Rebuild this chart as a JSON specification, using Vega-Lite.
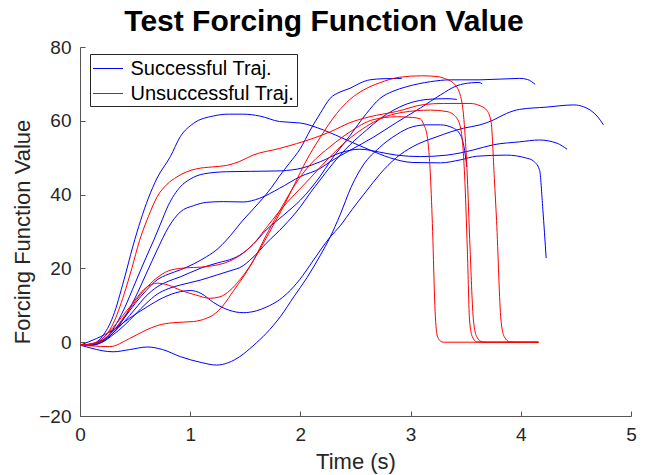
{
  "$schema": "https://vega.github.io/schema/vega-lite/v6.json",
  "width": 551,
  "height": 369,
  "autosize": {"type": "none"},
  "padding": {"left": 80, "top": 47, "right": 14, "bottom": 59},
  "title": {
    "text": "Test Forcing Function Value",
    "font": "Liberation Sans",
    "fontSize": 30,
    "fontWeight": "bold",
    "color": "#000000",
    "anchor": "middle",
    "frame": "bounds",
    "offset": 1
  },
  "datasets": {
    "runs": [
      {"id": "B1", "kind": "Successful Traj."},
      {"id": "B2", "kind": "Successful Traj."},
      {"id": "B3", "kind": "Successful Traj."},
      {"id": "M1", "kind": "Successful Traj."},
      {"id": "M2", "kind": "Successful Traj."},
      {"id": "M3", "kind": "Successful Traj."},
      {"id": "BL", "kind": "Successful Traj."},
      {"id": "BD", "kind": "Successful Traj."},
      {"id": "R1", "kind": "Unsuccessful Traj."},
      {"id": "RC", "kind": "Unsuccessful Traj."},
      {"id": "RB", "kind": "Unsuccessful Traj."},
      {"id": "RA", "kind": "Unsuccessful Traj."}
    ],
    "points": [
      {"id": "B1", "t": 0, "v": -0.8}, {"id": "B1", "t": 0.1, "v": -0.6}, {"id": "B1", "t": 0.2, "v": 1.5}, {"id": "B1", "t": 0.3, "v": 7},
      {"id": "B1", "t": 0.4, "v": 17}, {"id": "B1", "t": 0.48, "v": 26}, {"id": "B1", "t": 0.55, "v": 33}, {"id": "B1", "t": 0.62, "v": 39},
      {"id": "B1", "t": 0.7, "v": 44.5}, {"id": "B1", "t": 0.82, "v": 50.3}, {"id": "B1", "t": 0.91, "v": 55.7}, {"id": "B1", "t": 1.03, "v": 59.3},
      {"id": "B1", "t": 1.21, "v": 61.3}, {"id": "B1", "t": 1.35, "v": 61.8}, {"id": "B1", "t": 1.48, "v": 61.8}, {"id": "B1", "t": 1.63, "v": 61.3},
      {"id": "B1", "t": 1.81, "v": 59.8}, {"id": "B1", "t": 2.0, "v": 59.4}, {"id": "B1", "t": 2.21, "v": 57.5}, {"id": "B1", "t": 2.42, "v": 54.8},
      {"id": "B1", "t": 2.63, "v": 52.1}, {"id": "B1", "t": 2.81, "v": 50.0}, {"id": "B1", "t": 3.02, "v": 48.7}, {"id": "B1", "t": 3.27, "v": 48.6},
      {"id": "B1", "t": 3.45, "v": 49.4}, {"id": "B1", "t": 3.6, "v": 50.4}, {"id": "B1", "t": 3.87, "v": 50.7}, {"id": "B1", "t": 4.05, "v": 49.9},
      {"id": "B1", "t": 4.11, "v": 49.2}, {"id": "B1", "t": 4.17, "v": 46.7}, {"id": "B1", "t": 4.2, "v": 36}, {"id": "B1", "t": 4.23, "v": 22.8},

      {"id": "B2", "t": 0, "v": -0.8}, {"id": "B2", "t": 0.1, "v": -0.8}, {"id": "B2", "t": 0.2, "v": 0.2}, {"id": "B2", "t": 0.3, "v": 3.5},
      {"id": "B2", "t": 0.4, "v": 9}, {"id": "B2", "t": 0.5, "v": 16}, {"id": "B2", "t": 0.6, "v": 23}, {"id": "B2", "t": 0.67, "v": 27.7},
      {"id": "B2", "t": 0.73, "v": 32}, {"id": "B2", "t": 0.8, "v": 37}, {"id": "B2", "t": 0.91, "v": 42.1}, {"id": "B2", "t": 1.0, "v": 44.2},
      {"id": "B2", "t": 1.12, "v": 45.6}, {"id": "B2", "t": 1.33, "v": 46.2}, {"id": "B2", "t": 1.55, "v": 46.3}, {"id": "B2", "t": 1.78, "v": 46.4},
      {"id": "B2", "t": 1.97, "v": 46.9}, {"id": "B2", "t": 2.18, "v": 48.9}, {"id": "B2", "t": 2.36, "v": 51.3}, {"id": "B2", "t": 2.54, "v": 52.3},
      {"id": "B2", "t": 2.72, "v": 51.5}, {"id": "B2", "t": 2.87, "v": 50.7}, {"id": "B2", "t": 3.09, "v": 50.3}, {"id": "B2", "t": 3.33, "v": 50.7},
      {"id": "B2", "t": 3.57, "v": 52.1}, {"id": "B2", "t": 3.75, "v": 53.5}, {"id": "B2", "t": 3.99, "v": 54.3}, {"id": "B2", "t": 4.17, "v": 54.8},
      {"id": "B2", "t": 4.33, "v": 53.9}, {"id": "B2", "t": 4.42, "v": 52.3},

      {"id": "B3", "t": 0, "v": -0.8}, {"id": "B3", "t": 0.1, "v": -0.8}, {"id": "B3", "t": 0.2, "v": 0}, {"id": "B3", "t": 0.3, "v": 2.5},
      {"id": "B3", "t": 0.4, "v": 6.5}, {"id": "B3", "t": 0.5, "v": 12}, {"id": "B3", "t": 0.6, "v": 18.5}, {"id": "B3", "t": 0.7, "v": 25},
      {"id": "B3", "t": 0.8, "v": 31}, {"id": "B3", "t": 0.91, "v": 35.3}, {"id": "B3", "t": 1.03, "v": 37}, {"id": "B3", "t": 1.15, "v": 37.9},
      {"id": "B3", "t": 1.3, "v": 38.1}, {"id": "B3", "t": 1.48, "v": 38.0}, {"id": "B3", "t": 1.63, "v": 39.0}, {"id": "B3", "t": 1.81, "v": 41.7},
      {"id": "B3", "t": 2.0, "v": 44.9}, {"id": "B3", "t": 2.18, "v": 47.1}, {"id": "B3", "t": 2.27, "v": 48.9}, {"id": "B3", "t": 2.45, "v": 52},
      {"id": "B3", "t": 2.66, "v": 55.5}, {"id": "B3", "t": 2.87, "v": 59.5}, {"id": "B3", "t": 3.09, "v": 63.5}, {"id": "B3", "t": 3.27, "v": 67},
      {"id": "B3", "t": 3.42, "v": 69.5}, {"id": "B3", "t": 3.55, "v": 70.3}, {"id": "B3", "t": 3.62, "v": 70.4}, {"id": "B3", "t": 3.65, "v": 70.0},

      {"id": "M1", "t": 0, "v": -0.8}, {"id": "M1", "t": 0.1, "v": -0.5}, {"id": "M1", "t": 0.2, "v": 0.5}, {"id": "M1", "t": 0.3, "v": 3},
      {"id": "M1", "t": 0.4, "v": 6.5}, {"id": "M1", "t": 0.5, "v": 10.5}, {"id": "M1", "t": 0.6, "v": 14}, {"id": "M1", "t": 0.7, "v": 16.9},
      {"id": "M1", "t": 0.8, "v": 18.4}, {"id": "M1", "t": 0.91, "v": 19.6}, {"id": "M1", "t": 1.03, "v": 21.2}, {"id": "M1", "t": 1.15, "v": 23.2},
      {"id": "M1", "t": 1.25, "v": 25.3}, {"id": "M1", "t": 1.33, "v": 27.7}, {"id": "M1", "t": 1.48, "v": 33.1}, {"id": "M1", "t": 1.63, "v": 38},
      {"id": "M1", "t": 1.74, "v": 42}, {"id": "M1", "t": 1.81, "v": 45}, {"id": "M1", "t": 1.9, "v": 48.5}, {"id": "M1", "t": 2.0, "v": 52.5},
      {"id": "M1", "t": 2.09, "v": 57.5}, {"id": "M1", "t": 2.18, "v": 62.0}, {"id": "M1", "t": 2.27, "v": 66.1}, {"id": "M1", "t": 2.36, "v": 67.8},
      {"id": "M1", "t": 2.45, "v": 68.8}, {"id": "M1", "t": 2.54, "v": 70.2}, {"id": "M1", "t": 2.63, "v": 71.1}, {"id": "M1", "t": 2.75, "v": 71.4},
      {"id": "M1", "t": 2.92, "v": 71.5},

      {"id": "M2", "t": 0, "v": -0.8}, {"id": "M2", "t": 0.1, "v": -0.6}, {"id": "M2", "t": 0.2, "v": 0.3}, {"id": "M2", "t": 0.3, "v": 2.5},
      {"id": "M2", "t": 0.4, "v": 5.5}, {"id": "M2", "t": 0.5, "v": 9}, {"id": "M2", "t": 0.6, "v": 12.5}, {"id": "M2", "t": 0.7, "v": 15},
      {"id": "M2", "t": 0.8, "v": 16.5}, {"id": "M2", "t": 0.91, "v": 17.7}, {"id": "M2", "t": 1.09, "v": 20}, {"id": "M2", "t": 1.25, "v": 21.5},
      {"id": "M2", "t": 1.39, "v": 22.7}, {"id": "M2", "t": 1.45, "v": 23.6}, {"id": "M2", "t": 1.57, "v": 26.5}, {"id": "M2", "t": 1.69, "v": 30.4},
      {"id": "M2", "t": 1.85, "v": 34.5}, {"id": "M2", "t": 2.0, "v": 38.5}, {"id": "M2", "t": 2.09, "v": 41.5}, {"id": "M2", "t": 2.18, "v": 45},
      {"id": "M2", "t": 2.27, "v": 49}, {"id": "M2", "t": 2.45, "v": 56}, {"id": "M2", "t": 2.6, "v": 62}, {"id": "M2", "t": 2.72, "v": 66},
      {"id": "M2", "t": 2.84, "v": 68}, {"id": "M2", "t": 2.96, "v": 69.2}, {"id": "M2", "t": 3.18, "v": 70.6}, {"id": "M2", "t": 3.36, "v": 71.1},
      {"id": "M2", "t": 3.63, "v": 71.1}, {"id": "M2", "t": 3.99, "v": 71.5}, {"id": "M2", "t": 4.06, "v": 71.2}, {"id": "M2", "t": 4.13, "v": 69.9},

      {"id": "M3", "t": 0, "v": -0.8}, {"id": "M3", "t": 0.1, "v": -0.7}, {"id": "M3", "t": 0.2, "v": 0}, {"id": "M3", "t": 0.3, "v": 2},
      {"id": "M3", "t": 0.4, "v": 4.5}, {"id": "M3", "t": 0.5, "v": 7.5}, {"id": "M3", "t": 0.6, "v": 10.5}, {"id": "M3", "t": 0.7, "v": 13},
      {"id": "M3", "t": 0.8, "v": 14.5}, {"id": "M3", "t": 0.91, "v": 15.5}, {"id": "M3", "t": 1.09, "v": 16.8}, {"id": "M3", "t": 1.25, "v": 18.3},
      {"id": "M3", "t": 1.39, "v": 19.6}, {"id": "M3", "t": 1.45, "v": 20.2}, {"id": "M3", "t": 1.57, "v": 23}, {"id": "M3", "t": 1.69, "v": 26.8},
      {"id": "M3", "t": 1.85, "v": 31.5}, {"id": "M3", "t": 2.0, "v": 36.7}, {"id": "M3", "t": 2.09, "v": 40.5}, {"id": "M3", "t": 2.18, "v": 44},
      {"id": "M3", "t": 2.27, "v": 47.5}, {"id": "M3", "t": 2.45, "v": 53.5}, {"id": "M3", "t": 2.6, "v": 57.5}, {"id": "M3", "t": 2.72, "v": 60.5},
      {"id": "M3", "t": 2.84, "v": 62.8}, {"id": "M3", "t": 2.96, "v": 64.5}, {"id": "M3", "t": 3.08, "v": 65.5}, {"id": "M3", "t": 3.2, "v": 65.9},
      {"id": "M3", "t": 3.33, "v": 66.0}, {"id": "M3", "t": 3.42, "v": 65.8},

      {"id": "BL", "t": 0, "v": -0.8}, {"id": "BL", "t": 0.1, "v": -1.6}, {"id": "BL", "t": 0.2, "v": -2.3}, {"id": "BL", "t": 0.3, "v": -2.6},
      {"id": "BL", "t": 0.45, "v": -2.0}, {"id": "BL", "t": 0.61, "v": -1.3}, {"id": "BL", "t": 0.75, "v": -2.0}, {"id": "BL", "t": 0.91, "v": -3.9},
      {"id": "BL", "t": 1.1, "v": -5.5}, {"id": "BL", "t": 1.24, "v": -6.2}, {"id": "BL", "t": 1.35, "v": -5.5}, {"id": "BL", "t": 1.45, "v": -3.9},
      {"id": "BL", "t": 1.57, "v": -1.0}, {"id": "BL", "t": 1.69, "v": 2.4}, {"id": "BL", "t": 1.82, "v": 7}, {"id": "BL", "t": 1.94, "v": 12.3},
      {"id": "BL", "t": 2.06, "v": 17.5}, {"id": "BL", "t": 2.18, "v": 23.5}, {"id": "BL", "t": 2.27, "v": 28.5}, {"id": "BL", "t": 2.36, "v": 34.5},
      {"id": "BL", "t": 2.46, "v": 42}, {"id": "BL", "t": 2.57, "v": 48}, {"id": "BL", "t": 2.72, "v": 52.8}, {"id": "BL", "t": 2.87, "v": 56.2},
      {"id": "BL", "t": 3.02, "v": 58.4}, {"id": "BL", "t": 3.15, "v": 58.9}, {"id": "BL", "t": 3.27, "v": 58.9}, {"id": "BL", "t": 3.39, "v": 58.0},
      {"id": "BL", "t": 3.46, "v": 55.7}, {"id": "BL", "t": 3.49, "v": 52}, {"id": "BL", "t": 3.51, "v": 47.5},

      {"id": "BD", "t": 0, "v": -0.8}, {"id": "BD", "t": 0.15, "v": 1}, {"id": "BD", "t": 0.3, "v": 3.3}, {"id": "BD", "t": 0.45, "v": 6.5},
      {"id": "BD", "t": 0.61, "v": 9.6}, {"id": "BD", "t": 0.75, "v": 12}, {"id": "BD", "t": 0.91, "v": 13.7}, {"id": "BD", "t": 1.0, "v": 14.0},
      {"id": "BD", "t": 1.1, "v": 13.2}, {"id": "BD", "t": 1.21, "v": 10.8}, {"id": "BD", "t": 1.35, "v": 8.7}, {"id": "BD", "t": 1.48, "v": 8.0},
      {"id": "BD", "t": 1.6, "v": 8.5}, {"id": "BD", "t": 1.69, "v": 9.5}, {"id": "BD", "t": 1.81, "v": 11.5}, {"id": "BD", "t": 1.91, "v": 14.1},
      {"id": "BD", "t": 2.02, "v": 18}, {"id": "BD", "t": 2.12, "v": 22.3}, {"id": "BD", "t": 2.27, "v": 28.5}, {"id": "BD", "t": 2.36, "v": 31.5},
      {"id": "BD", "t": 2.47, "v": 36}, {"id": "BD", "t": 2.6, "v": 41}, {"id": "BD", "t": 2.72, "v": 45.5}, {"id": "BD", "t": 2.87, "v": 50},
      {"id": "BD", "t": 3.02, "v": 53.0}, {"id": "BD", "t": 3.24, "v": 55.7}, {"id": "BD", "t": 3.48, "v": 58.0}, {"id": "BD", "t": 3.63, "v": 58.9},
      {"id": "BD", "t": 3.75, "v": 60.2}, {"id": "BD", "t": 3.87, "v": 62}, {"id": "BD", "t": 3.99, "v": 63.1}, {"id": "BD", "t": 4.23, "v": 63.7},
      {"id": "BD", "t": 4.48, "v": 64.3}, {"id": "BD", "t": 4.57, "v": 63.8}, {"id": "BD", "t": 4.63, "v": 62.9}, {"id": "BD", "t": 4.7, "v": 61},
      {"id": "BD", "t": 4.75, "v": 58.9},

      {"id": "R1", "t": 0, "v": -0.8}, {"id": "R1", "t": 0.1, "v": -0.5}, {"id": "R1", "t": 0.2, "v": 0.8}, {"id": "R1", "t": 0.3, "v": 5},
      {"id": "R1", "t": 0.4, "v": 13}, {"id": "R1", "t": 0.47, "v": 20}, {"id": "R1", "t": 0.54, "v": 27.5}, {"id": "R1", "t": 0.62, "v": 34},
      {"id": "R1", "t": 0.7, "v": 39.4}, {"id": "R1", "t": 0.79, "v": 42.8}, {"id": "R1", "t": 0.88, "v": 44.8}, {"id": "R1", "t": 0.97, "v": 46.2},
      {"id": "R1", "t": 1.06, "v": 47.0}, {"id": "R1", "t": 1.2, "v": 47.5}, {"id": "R1", "t": 1.33, "v": 47.9}, {"id": "R1", "t": 1.45, "v": 49},
      {"id": "R1", "t": 1.57, "v": 50.7}, {"id": "R1", "t": 1.81, "v": 52.5}, {"id": "R1", "t": 2.12, "v": 55.3}, {"id": "R1", "t": 2.27, "v": 57},
      {"id": "R1", "t": 2.45, "v": 59.5}, {"id": "R1", "t": 2.63, "v": 61.1}, {"id": "R1", "t": 2.87, "v": 62.5}, {"id": "R1", "t": 3.12, "v": 64.4},
      {"id": "R1", "t": 3.3, "v": 64.7}, {"id": "R1", "t": 3.54, "v": 64.7}, {"id": "R1", "t": 3.62, "v": 64.2}, {"id": "R1", "t": 3.69, "v": 62.9},
      {"id": "R1", "t": 3.73, "v": 59.8}, {"id": "R1", "t": 3.76, "v": 44.4}, {"id": "R1", "t": 3.78, "v": 33}, {"id": "R1", "t": 3.82, "v": 6},
      {"id": "R1", "t": 3.85, "v": 1.5}, {"id": "R1", "t": 3.9, "v": 0.1}, {"id": "R1", "t": 3.95, "v": 0}, {"id": "R1", "t": 4.16, "v": 0},

      {"id": "RC", "t": 0, "v": -0.8}, {"id": "RC", "t": 0.1, "v": -1.0}, {"id": "RC", "t": 0.27, "v": -1.2}, {"id": "RC", "t": 0.45, "v": 1.0},
      {"id": "RC", "t": 0.6, "v": 3.3}, {"id": "RC", "t": 0.7, "v": 4.5}, {"id": "RC", "t": 0.85, "v": 5.3}, {"id": "RC", "t": 1.03, "v": 5.6},
      {"id": "RC", "t": 1.15, "v": 6.5}, {"id": "RC", "t": 1.21, "v": 7.4}, {"id": "RC", "t": 1.3, "v": 10}, {"id": "RC", "t": 1.39, "v": 13.8},
      {"id": "RC", "t": 1.5, "v": 18.5}, {"id": "RC", "t": 1.63, "v": 25}, {"id": "RC", "t": 1.75, "v": 31.5}, {"id": "RC", "t": 1.85, "v": 37},
      {"id": "RC", "t": 1.95, "v": 43}, {"id": "RC", "t": 2.05, "v": 49}, {"id": "RC", "t": 2.18, "v": 55.5}, {"id": "RC", "t": 2.33, "v": 62},
      {"id": "RC", "t": 2.45, "v": 65.8}, {"id": "RC", "t": 2.57, "v": 68.3}, {"id": "RC", "t": 2.72, "v": 70.3}, {"id": "RC", "t": 2.9, "v": 71.8},
      {"id": "RC", "t": 3.1, "v": 72.2}, {"id": "RC", "t": 3.24, "v": 72.0}, {"id": "RC", "t": 3.33, "v": 71.2}, {"id": "RC", "t": 3.39, "v": 70.2},
      {"id": "RC", "t": 3.45, "v": 67}, {"id": "RC", "t": 3.48, "v": 61.6}, {"id": "RC", "t": 3.51, "v": 48}, {"id": "RC", "t": 3.54, "v": 25},
      {"id": "RC", "t": 3.57, "v": 6}, {"id": "RC", "t": 3.6, "v": 1.5}, {"id": "RC", "t": 3.65, "v": 0.1}, {"id": "RC", "t": 3.7, "v": 0},
      {"id": "RC", "t": 4.16, "v": 0},

      {"id": "RB", "t": 0, "v": -0.8}, {"id": "RB", "t": 0.15, "v": 0}, {"id": "RB", "t": 0.3, "v": 4}, {"id": "RB", "t": 0.45, "v": 9.5},
      {"id": "RB", "t": 0.6, "v": 14.8}, {"id": "RB", "t": 0.7, "v": 16.0}, {"id": "RB", "t": 0.8, "v": 15.5}, {"id": "RB", "t": 0.91, "v": 14.1},
      {"id": "RB", "t": 1.05, "v": 12.8}, {"id": "RB", "t": 1.18, "v": 11.9}, {"id": "RB", "t": 1.27, "v": 12.3}, {"id": "RB", "t": 1.36, "v": 14},
      {"id": "RB", "t": 1.45, "v": 16.9}, {"id": "RB", "t": 1.57, "v": 22}, {"id": "RB", "t": 1.69, "v": 29}, {"id": "RB", "t": 1.81, "v": 35.5},
      {"id": "RB", "t": 1.98, "v": 44}, {"id": "RB", "t": 2.1, "v": 48.5}, {"id": "RB", "t": 2.27, "v": 53.0}, {"id": "RB", "t": 2.45, "v": 57.0},
      {"id": "RB", "t": 2.66, "v": 60.3}, {"id": "RB", "t": 2.87, "v": 61.1}, {"id": "RB", "t": 3.02, "v": 60.9}, {"id": "RB", "t": 3.09, "v": 60.5},
      {"id": "RB", "t": 3.12, "v": 58.9}, {"id": "RB", "t": 3.15, "v": 56}, {"id": "RB", "t": 3.18, "v": 45}, {"id": "RB", "t": 3.2, "v": 30},
      {"id": "RB", "t": 3.22, "v": 10}, {"id": "RB", "t": 3.24, "v": 2}, {"id": "RB", "t": 3.27, "v": 0.3}, {"id": "RB", "t": 3.3, "v": 0},
      {"id": "RB", "t": 4.16, "v": 0},

      {"id": "RA", "t": 0, "v": -0.8}, {"id": "RA", "t": 0.15, "v": -0.3}, {"id": "RA", "t": 0.3, "v": 3}, {"id": "RA", "t": 0.45, "v": 9},
      {"id": "RA", "t": 0.58, "v": 14}, {"id": "RA", "t": 0.7, "v": 17.5}, {"id": "RA", "t": 0.8, "v": 19.3}, {"id": "RA", "t": 0.91, "v": 20},
      {"id": "RA", "t": 1.15, "v": 20.5}, {"id": "RA", "t": 1.36, "v": 22}, {"id": "RA", "t": 1.45, "v": 23.5}, {"id": "RA", "t": 1.57, "v": 26.5},
      {"id": "RA", "t": 1.69, "v": 31}, {"id": "RA", "t": 1.81, "v": 35.5}, {"id": "RA", "t": 2.09, "v": 44.5}, {"id": "RA", "t": 2.27, "v": 50.3},
      {"id": "RA", "t": 2.45, "v": 55.3}, {"id": "RA", "t": 2.6, "v": 58.5}, {"id": "RA", "t": 2.72, "v": 60.5}, {"id": "RA", "t": 2.93, "v": 62.3},
      {"id": "RA", "t": 3.18, "v": 62.9}, {"id": "RA", "t": 3.33, "v": 62.5}, {"id": "RA", "t": 3.42, "v": 60.7}, {"id": "RA", "t": 3.46, "v": 57.0},
      {"id": "RA", "t": 3.49, "v": 45.3}, {"id": "RA", "t": 3.515, "v": 25}, {"id": "RA", "t": 3.535, "v": 6}, {"id": "RA", "t": 3.56, "v": 1.5},
      {"id": "RA", "t": 3.6, "v": 0.1}, {"id": "RA", "t": 3.65, "v": 0}, {"id": "RA", "t": 4.16, "v": 0}
    ]
  },
  "data": {"name": "points"},
  "transform": [
    {"lookup": "id", "from": {"data": {"name": "runs"}, "key": "id", "fields": ["kind"]}}
  ],
  "mark": {"type": "line", "interpolate": "monotone", "strokeWidth": 1},
  "encoding": {
    "x": {
      "field": "t",
      "type": "quantitative",
      "scale": {"domain": [0, 5], "nice": false, "zero": false},
      "axis": {
        "title": "Time (s)",
        "values": [0, 1, 2, 3, 4, 5],
        "format": "d",
        "grid": false,
        "tickSize": -5,
        "labelFlush": false,
        "labelPadding": 14,
        "titlePadding": 7
      }
    },
    "y": {
      "field": "v",
      "type": "quantitative",
      "scale": {"domain": [-20, 80], "nice": false, "zero": false},
      "axis": {
        "title": "Forcing Function Value",
        "values": [-20, 0, 20, 40, 60, 80],
        "grid": false,
        "tickSize": -5,
        "labelFlush": false,
        "labelPadding": 14,
        "titlePadding": 4
      }
    },
    "color": {
      "field": "kind",
      "type": "nominal",
      "scale": {"domain": ["Successful Traj.", "Unsuccessful Traj."], "range": ["#0000ff", "#ff0000"]},
      "legend": {
        "title": null,
        "orient": "none",
        "legendX": 10,
        "legendY": 7,
        "symbolType": "M-1.25,0H1.25",
        "symbolSize": 576,
        "symbolOffset": 3.5,
        "symbolStrokeWidth": 1,
        "symbolFillColor": "transparent",
        "labelFont": "Liberation Sans",
        "labelFontSize": 20,
        "labelColor": "#000000",
        "labelLimit": 400,
        "labelOffset": 10,
        "labelExpr": "datum.label + '\u2003'",
        "padding": 2,
        "rowPadding": 2,
        "fillColor": "#ffffff",
        "strokeColor": "#262626"
      }
    },
    "detail": {"field": "id"}
  },
  "config": {
    "view": {"stroke": null},
    "axis": {
      "domainColor": "#555555",
      "tickColor": "#555555",
      "labelFont": "Liberation Sans",
      "labelFontSize": 19,
      "labelColor": "#262626",
      "titleFont": "Liberation Sans",
      "titleFontSize": 22,
      "titleFontWeight": "normal",
      "titleColor": "#262626"
    }
  }
}
